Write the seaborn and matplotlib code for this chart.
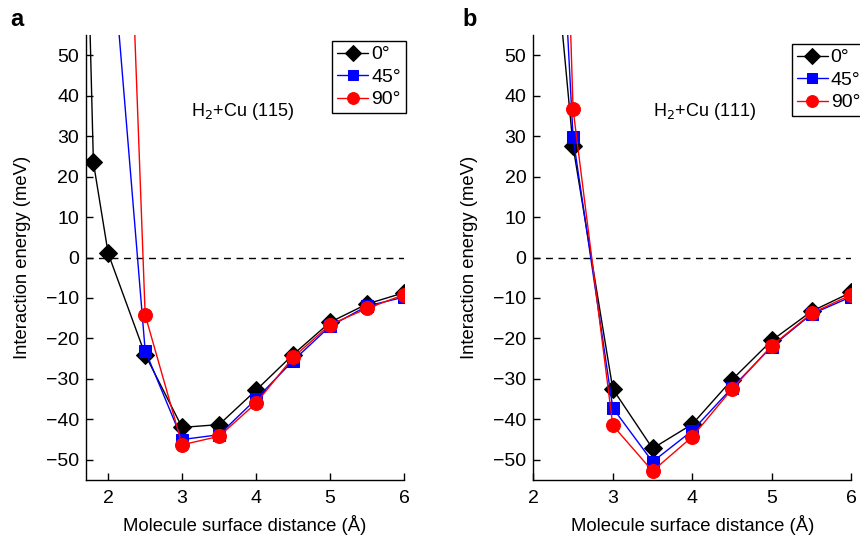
import matplotlib
matplotlib.use("Agg")
import matplotlib.pyplot as plt
import seaborn as sns
import pandas as pd

# ---- data ----
angles = ["0°", "45°", "90°"]
colors = ["black", "blue", "red"]
markers = ["D", "s", "o"]

# Panel a: H2 + Cu(115)
a_x_0 = [1.7, 1.8, 2.0, 2.5, 3.0, 3.5, 4.0, 4.5, 5.0, 5.5, 6.0]
a_y_0 = [95, 23.5, 1.0, -24.0, -42.0, -41.3, -32.8, -24.0, -16.0, -11.5, -8.7]
a_x_45 = [2.0, 2.5, 3.0, 3.5, 4.0, 4.5, 5.0, 5.5, 6.0]
a_y_45 = [88, -23.0, -45.0, -43.8, -35.0, -25.5, -17.0, -12.0, -9.8]
a_x_90 = [2.0, 2.5, 3.0, 3.5, 4.0, 4.5, 5.0, 5.5, 6.0]
a_y_90 = [233, -14.2, -46.3, -44.2, -36.0, -24.7, -16.6, -12.6, -9.2]

# Panel b: H2 + Cu(111)
b_x = [2.0, 2.5, 3.0, 3.5, 4.0, 4.5, 5.0, 5.5, 6.0]
b_y_0 = [133, 27.5, -32.5, -47.2, -41.2, -30.2, -20.5, -13.3, -8.6]
b_y_45 = [219, 29.7, -37.2, -50.5, -42.8, -32.2, -22.0, -14.0, -9.7]
b_y_90 = [352, 36.7, -41.5, -52.8, -44.3, -32.5, -21.8, -13.8, -9.2]

x_ticks = [2, 3, 4, 5, 6]
y_ticks = [-50, -40, -30, -20, -10, 0, 10, 20, 30, 40, 50]

sns.set_style("ticks")
plt.rcParams['font.family'] = ['Liberation Sans', 'DejaVu Sans']
plt.rcParams['axes.linewidth'] = 1.0
plt.rcParams['text.color'] = 'black'
plt.rcParams['axes.labelcolor'] = 'black'
plt.rcParams['xtick.color'] = 'black'
plt.rcParams['ytick.color'] = 'black'
plt.rcParams['axes.edgecolor'] = 'black'

FS_TICK = 14
FS_LAB = 13.3

fig = plt.figure(figsize=(8.6, 5.38), dpi=100)
ax_a = fig.add_axes([86/860, 58/538, 318/860, 445/538])
ax_b = fig.add_axes([533.3/860, 58/538, 318/860, 445/538])

panels = [
    (ax_a, [(a_x_0, a_y_0), (a_x_45, a_y_45), (a_x_90, a_y_90)], (1.7, 6), "H$_2$+Cu (115)", (3.82, 36), (0.774, 0.9865)),
    (ax_b, [(b_x, b_y_0), (b_x, b_y_45), (b_x, b_y_90)], (2.0, 6), "H$_2$+Cu (111)", (4.16, 36), (0.813, 0.98)),
]

msizes = [9, 8, 10]
for ax, series, xlim, label, lpos, legpos in panels:
    for (xs, ys), ang, c, m, ms in zip(series, angles, colors, markers, msizes):
        df = pd.DataFrame({"x": xs, "y": ys})
        sns.lineplot(data=df, x="x", y="y", ax=ax, color=c, marker=m,
                     markersize=ms, markeredgecolor=c, linewidth=1.0, label=ang)
    ax.axhline(0, color="black", linestyle=(0, (5, 4)), linewidth=1.0, zorder=0)
    ax.set_xlim(*xlim)
    ax.set_ylim(-55, 55)
    ax.set_xticks(x_ticks)
    ax.set_yticks(y_ticks)
    ax.tick_params(direction="in", length=5, width=1, labelsize=FS_TICK)
    ax.tick_params(axis="x", pad=7)
    ax.tick_params(axis="y", pad=5)
    ax.set_xlabel("Molecule surface distance (Å)", fontsize=FS_LAB, labelpad=6)
    ax.set_ylabel("Interaction energy (meV)", fontsize=FS_LAB, labelpad=11)
    sns.despine(ax=ax)
    ax.text(lpos[0], lpos[1], label, fontsize=13, ha="center", va="center")
    leg = ax.legend(loc="upper left", bbox_to_anchor=legpos, fontsize=FS_TICK,
                    frameon=True, fancybox=False, edgecolor="black",
                    handlelength=1.6, handletextpad=0.15, borderpad=0.25,
                    labelspacing=0.25, borderaxespad=0, markerscale=0.85,
                    framealpha=1)
    leg.get_frame().set_linewidth(1.0)

fig.text(10/860, 1 - 20/538, "a", fontsize=17, fontweight="bold", va="center")
fig.text(462/860, 1 - 20/538, "b", fontsize=17, fontweight="bold", va="center")

fig.savefig("out.png", dpi=100)
